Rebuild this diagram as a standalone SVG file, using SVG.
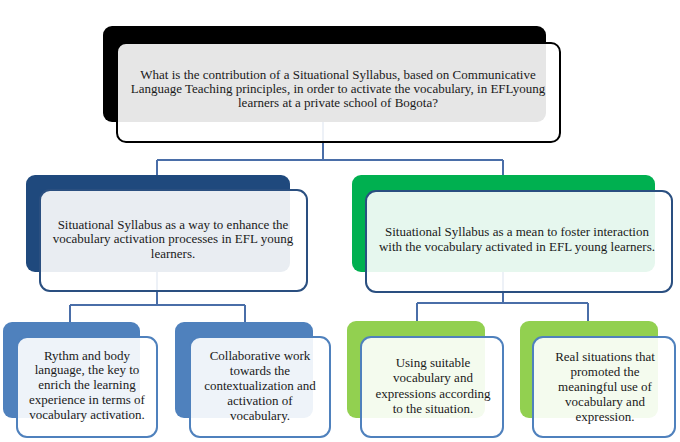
<svg xmlns="http://www.w3.org/2000/svg" width="680" height="442" viewBox="0 0 680 442">
<style>
.bg{fill:#ffffff}
.conn{fill:none;stroke:#4a6ea8;stroke-width:2}
.front{fill:#ffffff;fill-opacity:0.9;stroke-width:2}
text{font-family:'Liberation Serif','DejaVu Serif',serif;font-size:13px;fill:#1a1a1a;text-anchor:middle}
</style>
<rect class="bg" x="0" y="0" width="680" height="442"/>
<g id="connectors">
<path class="conn" d="M323,122 V160 M157,160 H503 M157,160 V176 M503,160 V176"/>
<path class="conn" d="M157,272 V305 M70,305 H245 M70,305 V323 M245,305 V323"/>
<path class="conn" d="M503,272 V303 M417,303 H588 M417,303 V322 M588,303 V322"/>
</g>
<g id="top">
<rect x="103" y="26" width="443" height="96" rx="9" fill="#000000"/>
<rect class="front" x="117" y="43" width="443" height="99" rx="9" stroke="#000000"/>
<text x="338" y="79">What is the contribution of a Situational Syllabus, based on Communicative</text>
<text x="338" y="93">Language Teaching principles, in order to activate the vocabulary, in EFLyoung</text>
<text x="338" y="107">learners at a private school of Bogota?</text>
</g>
<g id="mid-left">
<rect x="26" y="175" width="264" height="97" rx="9" fill="#1f497d"/>
<rect class="front" x="40" y="190" width="267" height="101" rx="10" stroke="#2a4f80"/>
<text x="173" y="229">Situational Syllabus as a way to enhance the</text>
<text x="173" y="243">vocabulary activation processes in EFL young</text>
<text x="173" y="258">learners.</text>
</g>
<g id="mid-right">
<rect x="352" y="175" width="303" height="97" rx="9" fill="#00b050"/>
<rect class="front" x="366" y="191" width="306" height="101" rx="10" stroke="#2a4f80"/>
<text x="517" y="236">Situational Syllabus as a  mean to foster interaction</text>
<text x="517" y="251">with the vocabulary activated in EFL young learners.</text>
</g>
<g id="b1">
<rect x="3" y="322" width="137" height="96" rx="9" fill="#4f81bd"/>
<rect class="front" x="17" y="337" width="140" height="100" rx="10" stroke="#4f81bd"/>
<text x="87" y="360">Rythm and body</text>
<text x="87" y="374">language, the key to</text>
<text x="87" y="389">enrich the learning</text>
<text x="87" y="404">experience in terms of</text>
<text x="87" y="419">vocabulary activation.</text>
</g>
<g id="b2">
<rect x="175" y="322" width="138" height="96" rx="9" fill="#4f81bd"/>
<rect class="front" x="190" y="337" width="140" height="100" rx="10" stroke="#4f81bd"/>
<text x="260" y="360">Collaborative work</text>
<text x="260" y="375">towards the</text>
<text x="260" y="390">contextualization  and</text>
<text x="260" y="405">activation  of</text>
<text x="260" y="420">vocabulary.</text>
</g>
<g id="b3">
<rect x="347" y="321" width="138" height="97" rx="9" fill="#92d050"/>
<rect class="front" x="361" y="337" width="142" height="100" rx="10" stroke="#4f81bd"/>
<text x="433" y="367">Using suitable</text>
<text x="433" y="382">vocabulary and</text>
<text x="433" y="398">expressions according</text>
<text x="433" y="413">to the situation.</text>
</g>
<g id="b4">
<rect x="520" y="321" width="138" height="97" rx="9" fill="#92d050"/>
<rect class="front" x="533" y="337" width="142" height="100" rx="10" stroke="#4f81bd"/>
<text x="605" y="361">Real situations that</text>
<text x="605" y="376">promoted the</text>
<text x="605" y="391">meaningful use of</text>
<text x="605" y="406">vocabulary and</text>
<text x="605" y="421">expression.</text>
</g>
</svg>
